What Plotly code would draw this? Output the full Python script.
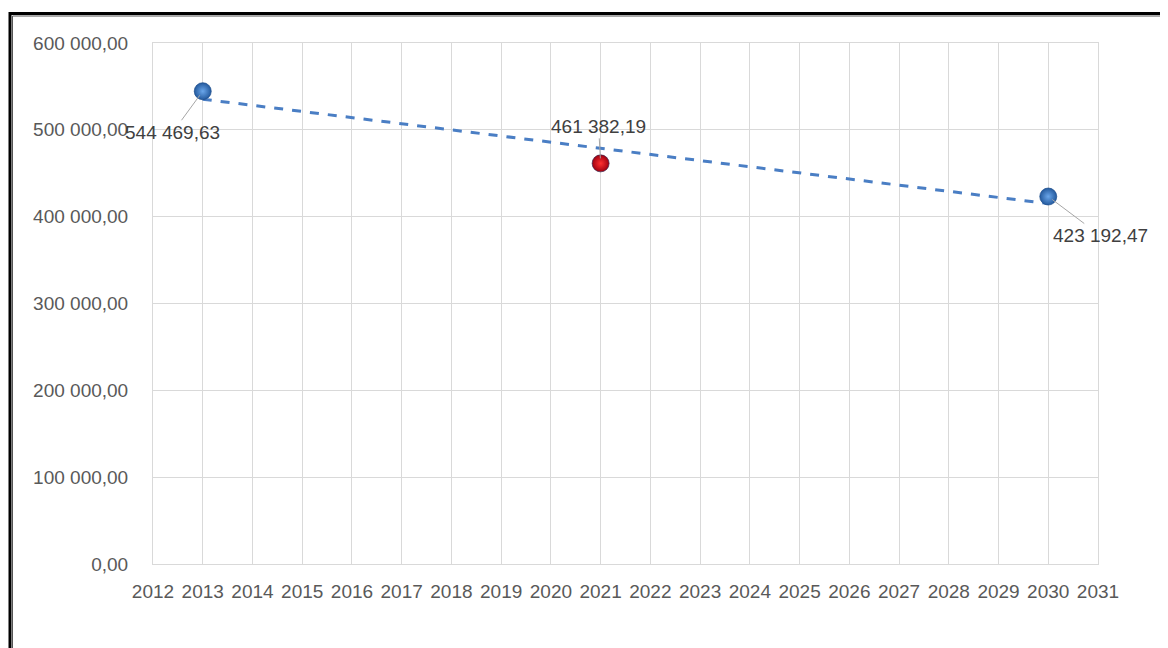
import numpy as np
import plotly.graph_objects as go

years = [2013, 2021, 2030]
values = [544469.63, 461382.19, 423192.47]
labels = ["544 469,63", "461 382,19", "423 192,47"]
highlight_colors = ["#6aa6ea", "#ff3030", "#6aa6ea"]
edge_colors = ["#245a9e", "#a00010", "#245a9e"]
outline_colors = ["#1a4a8a", "#3a2a50", "#1a4a8a"]
label_offsets = [(-30, 41), (-2, -37), (52, 39)]

OFF = 8  # page body margin of the html page
W, H = 1168 - OFF, 648 - OFF
L, R, T, B = 153 - OFF, 70, 43 - OFF, 84
pw, ph = W - L - R, H - T - B

fig = go.Figure()

# linear trendline fitted to the data (Excel-style)
coef = np.polyfit(years, values, 1)
tx = [years[0], years[-1]]
ty = list(np.polyval(coef, tx))
fig.add_trace(go.Scatter(x=tx, y=ty, mode="lines",
                         line=dict(color="#4a7ec4", width=3, dash="dash"),
                         hoverinfo="skip", showlegend=False))

fig.add_trace(go.Scatter(
    x=years, y=values, mode="markers",
    marker=dict(size=17, color=edge_colors,
                gradient=dict(type="radial", color=highlight_colors),
                line=dict(width=0.7, color=outline_colors)),
    showlegend=False))

for x, y, t, (ax, ay) in zip(years, values, labels, label_offsets):
    fig.add_annotation(x=x, y=y, text=t, showarrow=True, arrowhead=0,
                       arrowcolor="#a6a6a6", arrowwidth=1, ax=ax, ay=ay,
                       standoff=5,
                       font=dict(family="Liberation Sans", size=19, color="#404040"))

axis_font = dict(family="Liberation Sans", size=19, color="#595959")
fig.update_xaxes(range=[2012, 2031], dtick=1, tick0=2012, showgrid=True,
                 gridcolor="#d9d9d9", gridwidth=1, showline=True, mirror=True,
                 linecolor="#d9d9d9", linewidth=1, zeroline=False,
                 tickfont=axis_font, ticklabelstandoff=10, tickformat="d")
fig.update_yaxes(range=[0, 600000], dtick=100000, showgrid=True,
                 gridcolor="#d9d9d9", gridwidth=1, showline=True, mirror=True,
                 linecolor="#d9d9d9", linewidth=1, zeroline=False,
                 tickfont=axis_font, tickformat=",.2f", ticklabelstandoff=20)

# double black frame (outer thick, inner thin)
def px_to_paper(xp, yp):
    xp -= OFF
    yp -= OFF
    return (xp - L) / pw, (H - B - yp) / ph

x0, y0 = px_to_paper(10, 13.5)
x1, y1 = px_to_paper(1168 + 20, 648 + 20)
fig.add_shape(type="rect", xref="paper", yref="paper", x0=x0, y0=y1, x1=x1, y1=y0,
              line=dict(color="black", width=3), layer="above")
x0, y0 = px_to_paper(12.5, 16)
fig.add_shape(type="rect", xref="paper", yref="paper", x0=x0, y0=y1, x1=x1, y1=y0,
              line=dict(color="#555555", width=1), layer="above")

fig.update_layout(width=W, height=H, margin=dict(l=L, r=R, t=T, b=B),
                  paper_bgcolor="white", plot_bgcolor="white",
                  separators=", ", showlegend=False)

fig.write_html("out.html")
